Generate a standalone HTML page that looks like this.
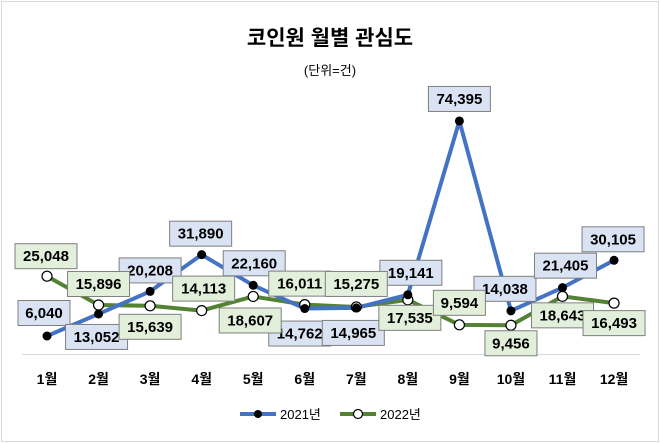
<!DOCTYPE html>
<html><head><meta charset="utf-8"><style>
body{margin:0;background:#fff}
svg{display:block;font-family:"Liberation Sans","Noto Sans CJK KR",sans-serif}
</style></head><body>
<svg id="c" width="660" height="443">
<rect x="1.5" y="1.5" width="657" height="440" fill="#fff" stroke="#d9d9d9"/>
<text x="330" y="45" text-anchor="middle" font-size="21" font-weight="bold" fill="#000">코인원 월별 관심도</text>
<text x="330" y="75" text-anchor="middle" font-size="13" fill="#000">(단위=건)</text>
<line x1="22" y1="354.5" x2="640" y2="354.5" stroke="#d9d9d9"/>
<g id="plot"></g>
<g>
<line x1="240" y1="414" x2="276" y2="414" stroke="#4472c4" stroke-width="4"/>
<circle cx="258" cy="414" r="4" fill="#000"/>
<text x="280" y="419" font-size="13">2021년</text>
<line x1="340" y1="414" x2="376" y2="414" stroke="#548235" stroke-width="4"/>
<circle cx="358" cy="414" r="4.5" fill="#fff" stroke="#000" stroke-width="1.2"/>
<text x="380" y="419" font-size="13">2022년</text>
</g>
</svg>
<script>
const months=["1월","2월","3월","4월","5월","6월","7월","8월","9월","10월","11월","12월"];
const s2021=[6040,13052,20208,31890,22160,14762,14965,19141,74395,14038,21405,30105];
const s2022=[25048,15896,15639,14113,18607,16011,15275,17535,9594,9456,18643,16493];
const off2021=[[-3,-23],[-2,23],[0,-21],[-1,-21],[1,-22],[-5,25],[-3,25],[3,-22],[0,-22],[-6,-22],[3,-22],[-1,-21]];
const off2022=[[-1,-20],[0,-21],[0,21],[2,-22],[-3,24],[-5,-21],[0,-23],[2,18],[0,-22],[0,18],[0,19],[0,20]];
const NS="http://www.w3.org/2000/svg";
const g=document.getElementById('plot');
const x=i=>47+i*51.55;
const y=v=>355-v*0.003146;
const fmt=v=>v.toLocaleString('en-US');
function mk(t,a){const e=document.createElementNS(NS,t);for(const k in a)e.setAttribute(k,a[k]);g.appendChild(e);return e;}
months.forEach((m,i)=>{const t=mk('text',{x:x(i),y:384,'text-anchor':'middle','font-size':14,'font-weight':'bold'});t.textContent=m;

});
function series(data,color,name){
 const p=mk('polyline',{points:data.map((v,i)=>x(i)+','+y(v)).join(' '),fill:'none',stroke:color,'stroke-width':4,'stroke-linejoin':'round'});
 
 
}
series(s2022,'#548235','series-2022');
series(s2021,'#4472c4','series-2021');
s2022.forEach((v,i)=>{const c=mk('circle',{cx:x(i),cy:y(v),r:5,fill:'#fff',stroke:'#000','stroke-width':1.2});

});
s2021.forEach((v,i)=>{const c=mk('circle',{cx:x(i),cy:y(v),r:4.5,fill:'#000'});

});
function labels(data,off,bg,name){
 data.forEach((v,i)=>{const cx=x(i)+off[i][0],cy=y(v)+off[i][1];const w=fmt(v).length>5?62:52;
  const r=mk('rect',{x:cx-w/2,y:cy-12.5,width:w,height:25,fill:bg,stroke:'#7f7f7f','stroke-width':1});
  
  
  const t=mk('text',{x:cx,y:cy+5,'text-anchor':'middle','font-size':15,'font-weight':'bold',fill:'#000'});
  t.textContent=fmt(v);
  
  });
}
labels(s2021,off2021,'#dae3f3','series-2021');
labels(s2022,off2022,'#e2efda','series-2022');
</script>
</body></html>
